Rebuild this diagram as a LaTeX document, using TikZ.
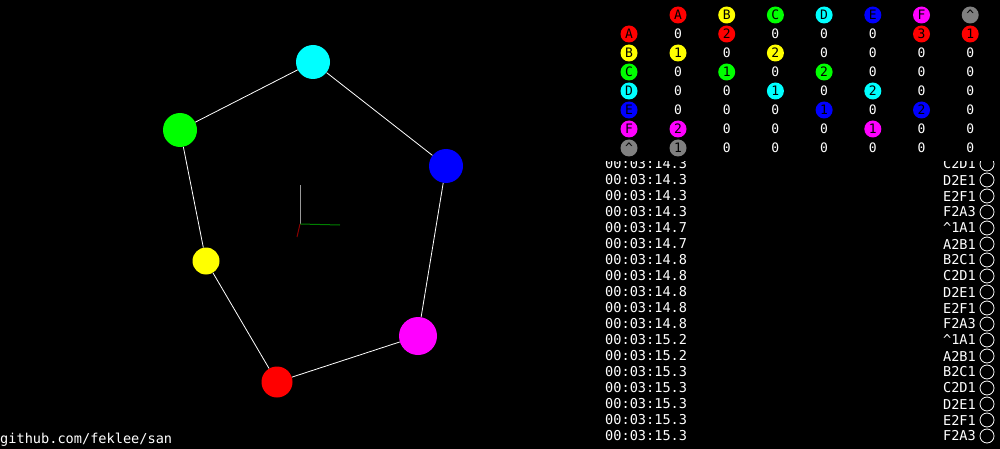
\documentclass[tikz,border=0pt]{standalone}
\usepackage{fontspec}
\setmonofont{DejaVu Sans Mono}
\begin{document}
\begin{tikzpicture}[x=1pt,y=-1pt,
  vert/.style={circle,inner sep=0pt,draw=none},
  edge/.style={draw=white,line width=0.8pt},
  cell/.style={circle,inner sep=0pt,minimum size=17pt,font=\ttfamily\fontsize{13}{13}\selectfont,text=black},
  zero/.style={inner sep=0pt,font=\ttfamily\fontsize{13}{13}\selectfont,text=white},
  logtxt/.style={inner sep=0pt,font=\ttfamily\fontsize{13.6}{13.6}\selectfont,text=white},
  logmark/.style={circle,draw=white,line width=0.8pt,minimum size=14pt,inner sep=0pt}]
\definecolor{cA}{RGB}{255,0,0}
\definecolor{cB}{RGB}{255,255,0}
\definecolor{cC}{RGB}{0,255,0}
\definecolor{cD}{RGB}{0,255,255}
\definecolor{cE}{RGB}{0,0,255}
\definecolor{cF}{RGB}{255,0,255}
\definecolor{cG}{RGB}{128,128,128}
\useasboundingbox (0,0) rectangle (1000,449);
\fill[black] (0,0) rectangle (1000,449);
% axes
\coordinate (o) at (300,224);
\coordinate (ax) at (300,185);
\coordinate (ay) at (340,225);
\coordinate (az) at (297,237);
\draw[gray!80,line width=1pt] (o) -- (ax);
\draw[green!50!black,line width=1pt] (o) -- (ay);
\draw[red!55!black,line width=1pt] (o) -- (az);
% graph
\node[vert,fill=cD,minimum size=34pt] (D) at (313,62) {};
\node[vert,fill=cE,minimum size=34pt] (E) at (446,166) {};
\node[vert,fill=cF,minimum size=38pt] (F) at (418,336) {};
\node[vert,fill=cA,minimum size=31pt] (A) at (277,382) {};
\node[vert,fill=cB,minimum size=27pt] (B) at (206,261) {};
\node[vert,fill=cC,minimum size=34pt] (C) at (180,130) {};
\draw[edge] (C) -- (D);
\draw[edge] (D) -- (E);
\draw[edge] (E) -- (F);
\draw[edge] (F) -- (A);
\draw[edge] (A) -- (B);
\draw[edge] (B) -- (C);
% log
\begin{scope}
\clip (590,161.5) rectangle (1000,449);
\foreach \t/\l [count=\i from 0] in {14.3/C2D1,14.3/D2E1,14.3/E2F1,14.3/F2A3,14.7/\^{}1A1,14.7/A2B1,14.8/B2C1,14.8/C2D1,14.8/D2E1,14.8/E2F1,14.8/F2A3,15.2/\^{}1A1,15.2/A2B1,15.3/B2C1,15.3/C2D1,15.3/D2E1,15.3/E2F1,15.3/F2A3}{
  \pgfmathsetmacro\yy{164+16*\i}
  \node[logtxt,anchor=west] (lt\i) at (605,\yy) {00:03:\t};
  \node[logtxt,anchor=east] (ll\i) at (976,\yy) {\l};
  \node[logmark] (lm\i) at (987,\yy) {};
}
\end{scope}
% matrix header
\foreach \n/\c [count=\i from 0] in {A/cA,B/cB,C/cC,D/cD,E/cE,F/cF,\^{}/cG}{
  \pgfmathsetmacro\xx{678+48.7*\i}
  \node[cell,fill=\c] (h\i) at (\xx,15) {\n};
}
% matrix rows
\foreach \n/\c/\vals [count=\j from 0] in {A/cA/{0,2,0,0,0,3,1},B/cB/{1,0,2,0,0,0,0},C/cC/{0,1,0,2,0,0,0},D/cD/{0,0,1,0,2,0,0},E/cE/{0,0,0,1,0,2,0},F/cF/{2,0,0,0,1,0,0},\^{}/cG/{1,0,0,0,0,0,0}}{
  \pgfmathsetmacro\yy{34+19*\j}
  \node[cell,fill=\c] (r\j) at (629,\yy) {\n};
  \foreach \v [count=\i from 0] in \vals {
    \pgfmathsetmacro\xx{678+48.7*\i}
    \ifnum\v=0
      \node[zero] (m\j-\i) at (\xx,\yy) {0};
    \else
      \node[cell,fill=\c] (m\j-\i) at (\xx,\yy) {\v};
    \fi
  }
}
% footer
\node[logtxt,anchor=west] (gh) at (0,440) {github.com/feklee/san};
\end{tikzpicture}
\end{document}
